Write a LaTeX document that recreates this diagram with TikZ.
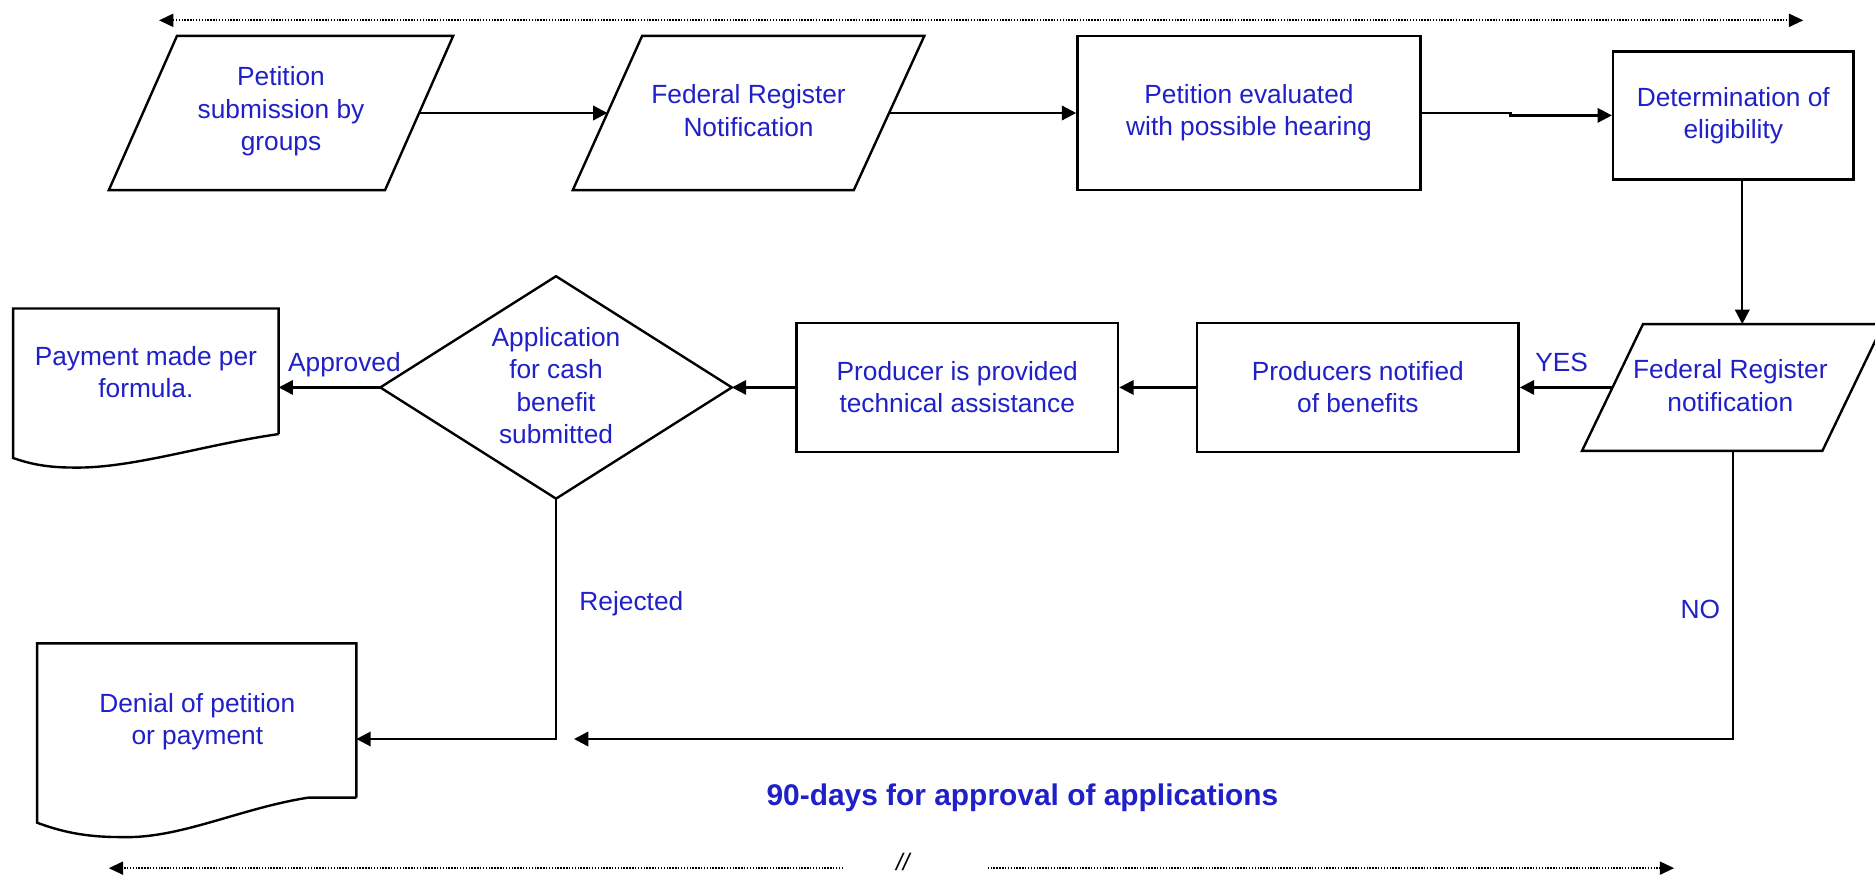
\documentclass[tikz,border=0pt]{standalone}
\usepackage{fontspec}
\setmainfont{Liberation Sans}
\usetikzlibrary{arrows.meta,shapes.geometric}
\definecolor{txtblue}{RGB}{32,32,200}
\tikzset{
  shp/.style={draw=black, line width=2pt, fill=white},
  boxn/.style={shp, rectangle, inner sep=0pt, text=txtblue, align=center,
    font=\fontsize{22}{27}\selectfont},
  lbl/.style={text=txtblue, align=center, font=\fontsize{22}{27}\selectfont, inner sep=0pt},
  conn/.style={line width=2pt, -{Triangle[length=12pt,width=12pt]}},
  dotln/.style={line width=1.4pt, dash pattern=on 1.2pt off 1.2pt},
  dtip/.style={dotln, -{Triangle[length=12pt,width=11pt]}},
}
\begin{document}
\begin{tikzpicture}[x=1pt,y=-1pt]
\useasboundingbox (0,0) rectangle (1568,733);
\fill[white] (0,0) rectangle (1568,733);

% ---- shapes drawn directly (parallelograms, diamond, documents)
\draw[shp] (148,30) -- (379,30) -- (322,159) -- (91,159) -- cycle;
\draw[shp] (537,30) -- (773,30) -- (714,159) -- (479,159) -- cycle;
\draw[shp] (1374,271) -- (1575,271) -- (1524,377) -- (1323,377) -- cycle;
\draw[shp] (465,231) -- (612,324) -- (465,417) -- (318,324) -- cycle;
\draw[shp] (233,363) -- (233,258) -- (11,258) -- (11,383)
  .. controls (25,388) and (40,391) .. (61,391)
  .. controls (110,392) and (170,372) .. (233,363);
\draw[shp] (298,667) -- (298,538) -- (31,538) -- (31,688)
  .. controls (50,695) and (70,700) .. (100,700)
  .. controls (150,702) and (200,676) .. (258,667) -- (298,667);

% ---- text nodes
\node[lbl] (p1) at (235,93) {Petition\\submission by\\groups};
\node[lbl] (p2) at (626,92.5) {Federal Register\\Notification};
\node[boxn, minimum width=287pt, minimum height=129pt] (r3) at (1044.5,94.5)
  {Petition evaluated\\with possible hearing};
\node[boxn, minimum width=201pt, minimum height=107pt] (r4) at (1449.5,96.5)
  {Determination of\\eligibility};
\node[lbl] (p5) at (1447,322.5) {Federal Register\\notification};
\node[boxn, minimum width=269pt, minimum height=108pt] (r6) at (1135.5,324)
  {Producers notified\\of benefits};
\node[boxn, minimum width=269pt, minimum height=108pt] (r7) at (800.5,324)
  {Producer is provided\\technical assistance};
\node[lbl] (dm) at (465,322.5) {Application\\for cash\\benefit\\submitted};
\node[lbl] (d1) at (122,311) {Payment made per\\formula.};
\node[lbl] (d2) at (165,603.5) {Denial of petition\\or payment};

\node[lbl] (yes) at (1306,303) {YES};
\node[lbl] (appr) at (288,305) {Approved};
\node[lbl] (rej) at (528,505) {Rejected};
\node[lbl] (no) at (1422,510) {NO};
\node[text=txtblue, inner sep=0pt, font=\fontsize{25}{30}\selectfont\bfseries] (title)
  at (855,667) {90-days for approval of applications};
\node[inner sep=0pt, font=\fontsize{20}{24}\selectfont\itshape] (brk) at (755,721) {//};

% ---- connector end points
\coordinate (p1r) at (350,94.5);
\coordinate (p2l) at (508,94.5);
\coordinate (p2r) at (744,94.5);
\coordinate (p5t) at (1457,271);
\coordinate (p5l) at (1348.5,324);
\coordinate (p5b) at (1449,377);
\coordinate (dr) at (612,324);
\coordinate (dl) at (318,324);
\coordinate (db) at (465,417);
\coordinate (d1r) at (233,324);
\coordinate (d2r) at (298,618);
\coordinate (nend) at (480,618);
\coordinate (tl) at (133,17);
\coordinate (tr) at (1508,17);
\coordinate (bl) at (91,726);
\coordinate (bla) at (705,726);
\coordinate (brb) at (826,726);
\coordinate (br) at (1400,726);

% ---- connectors
\draw[conn] (p1r) -- (p2l);
\draw[conn] (p2r) -- (r3.west);
\draw[conn] (r3.east) -- ++(74,0) |- (r4.west);
\draw[conn] (p5t |- r4.south) -- (p5t);
\draw[conn] (p5l) -- (r6.east);
\draw[conn] (r6.west) -- (r7.east);
\draw[conn] (r7.west) -- (dr);
\draw[conn] (dl) -- (d1r);
\draw[conn] (db) |- (d2r);
\draw[conn] (p5b) |- (nend);

% ---- dotted timeline arrows
\draw[dotln, {Triangle[length=12pt,width=11pt]}-{Triangle[length=12pt,width=11pt]}] (tl) -- (tr);
\draw[dtip] (bla) -- (bl);
\draw[dtip] (brb) -- (br);
\end{tikzpicture}
\end{document}
